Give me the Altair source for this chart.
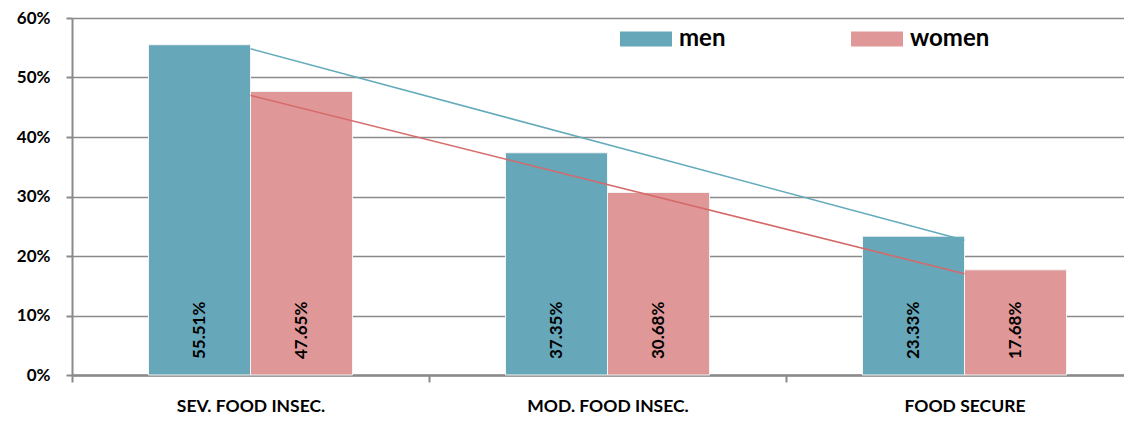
import altair as alt
import pandas as pd

categories = ["SEV. FOOD INSEC.", "MOD. FOOD INSEC.", "FOOD SECURE"]
men = [55.51, 37.35, 23.33]
women = [47.65, 30.68, 17.68]
groups = ["men", "women"]
bar_colors = ["#66A7BA", "#DF9797"]
line_colors = ["#63AABB", "#D46A6A"]
y_ticks = [0, 10, 20, 30, 40, 50, 60]

rows = []
for i, c in enumerate(categories):
    rows.append({"cat": c, "idx": i, "gender": "men", "value": men[i]})
    rows.append({"cat": c, "idx": i, "gender": "women", "value": women[i]})
df = pd.DataFrame(rows)

FONT = "Lato"
GRID = "#8a8a8a"
XRANGE = [0, 1071]

yscale = alt.Scale(domain=[0, 60], nice=False)
yaxis = alt.Axis(
    values=y_ticks, labelExpr="datum.value + '%'", title=None,
    grid=True, gridColor=GRID, gridWidth=1.5,
    domainColor=GRID, domainWidth=2, tickColor=GRID, tickWidth=2, tickSize=6,
    labelPadding=16, labelFontSize=17, labelFont=FONT, labelFontWeight="bold",
    labelColor="#000000",
)

xcat = alt.X(
    "cat:N", sort=categories, title=None,
    scale=alt.Scale(paddingInner=0, paddingOuter=0, range=XRANGE),
    axis=alt.Axis(
        labelAngle=0, grid=False, tickBand="extent", tickSize=7, tickColor=GRID,
        tickWidth=2, domainColor=GRID, domainWidth=2.5, labelPadding=29,
        labelBaseline="alphabetic",
        labelFontSize=17.5, labelFont=FONT, labelFontWeight="bold", labelColor="#000000",
    ),
)
xoff = alt.XOffset("gender:N", sort=groups, scale=alt.Scale(paddingInner=0, paddingOuter=0.75))

base = alt.Chart(df)

bars = base.mark_bar(stroke="#f4f4f4", strokeWidth=1).encode(
    x=xcat,
    xOffset=xoff,
    y=alt.Y("value:Q", scale=yscale, axis=yaxis),
    color=alt.Color(
        "gender:N", sort=groups,
        scale=alt.Scale(domain=groups, range=bar_colors),
        legend=alt.Legend(
            orient="none", legendX=548, legendY=-5, direction="horizontal", title=None,
            symbolType="M-1,-0.29H1V0.29H-1Z", symbolSize=2704, symbolStrokeWidth=0,
            symbolOpacity=1,
            labelFontSize=24, labelFont=FONT, labelFontWeight="bold", labelColor="#000000",
            labelOffset=7, columnPadding=125, padding=0,
        ),
    ),
)

labels = base.mark_text(
    angle=270, align="left", baseline="middle", yOffset=-16,
    fontSize=17, font=FONT, fontWeight="bold", color="#000000",
).transform_calculate(
    label="format(datum.value, '.2f') + '%'"
).encode(
    x=xcat,
    xOffset=xoff,
    y=alt.datum(0, scale=yscale),
    text="label:N",
)

bar_layer = alt.layer(bars, labels)

trend = base.mark_line(strokeWidth=1.6).transform_regression(
    "idx", "value", groupby=["gender"], extent=[0, 2]
).encode(
    x=alt.X("idx:Q", scale=alt.Scale(domain=[-0.5, 2.5], nice=False, zero=False, range=XRANGE),
            axis=None),
    y=alt.Y("value:Q", scale=yscale),
    stroke=alt.Stroke("gender:N", sort=groups,
                      scale=alt.Scale(domain=groups, range=line_colors), legend=None),
)

chart = alt.layer(bar_layer, trend).resolve_scale(x="independent").properties(
    width=1052, height=357,
    autosize=alt.AutoSizeParams(type="none"),
    padding={"left": 64, "top": 10, "right": 0, "bottom": 39},
).configure_view(strokeWidth=0).configure(background="#ffffff")

chart.save("out.html", embed_options={"renderer": "svg", "actions": False})
